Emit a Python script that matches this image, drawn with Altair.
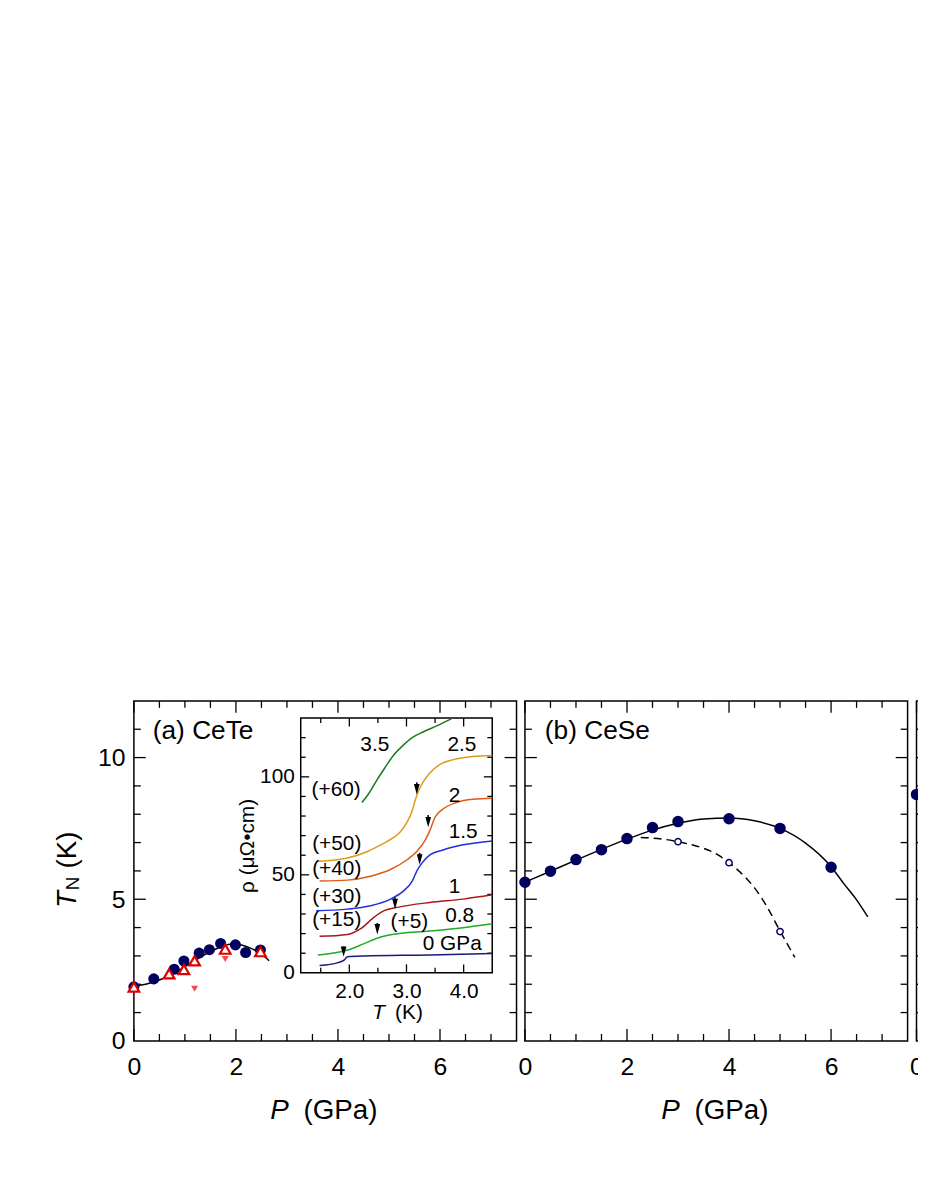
import altair as alt
import pandas as pd

FONT = "Liberation Sans"
NAVY = "#00005e"

# ---------------- (a) CeTe : T_N vs P ----------------
cete_dot_P = [0.0, 0.39, 0.79, 0.98, 1.28, 1.48, 1.70, 1.99, 2.19, 2.48]
cete_dot_T = [1.91, 2.19, 2.53, 2.82, 3.10, 3.22, 3.44, 3.39, 3.12, 3.21]
cete_tri_P = [0.0, 0.69, 0.98, 1.19, 1.79, 2.48]
cete_tri_T = [1.90, 2.37, 2.52, 2.83, 3.24, 3.15]
cete_down_P = [1.19, 1.79]
cete_down_T = [1.84, 2.89]
cete_fit_P = [0.0, 0.25, 0.5, 0.75, 1.0, 1.25, 1.5, 1.75, 1.9, 2.0, 2.25, 2.5, 2.65]
cete_fit_T = [1.93, 2.01, 2.15, 2.36, 2.62, 2.90, 3.15, 3.35, 3.41, 3.41, 3.30, 3.06, 2.83]

# ---------------- (b) CeSe ----------------
cese_dot_P = [0.0, 0.5, 1.0, 1.5, 2.0, 2.5, 3.0, 4.0, 5.0, 6.0]
cese_dot_T = [5.60, 5.99, 6.40, 6.75, 7.14, 7.53, 7.74, 7.84, 7.50, 6.13]
cese_open_P = [3.0, 4.0, 5.0]
cese_open_T = [7.03, 6.29, 3.86]
cese_fit_P = [0.0, 0.5, 1.0, 1.5, 2.0, 2.5, 3.0, 3.5, 4.0, 4.5, 5.0, 5.5, 6.0, 6.25, 6.5, 6.72]
cese_fit_T = [5.60, 5.99, 6.38, 6.76, 7.12, 7.44, 7.68, 7.83, 7.87, 7.77, 7.50, 6.98, 6.15, 5.55, 4.98, 4.38]
cese_dash_P = [2.27, 2.5, 2.75, 3.0, 3.25, 3.5, 3.75, 4.0, 4.25, 4.5, 4.75, 5.0, 5.15, 5.29]
cese_dash_T = [7.18, 7.16, 7.11, 7.03, 6.93, 6.80, 6.60, 6.29, 5.90, 5.40, 4.72, 3.88, 3.40, 2.95]

# ---------------- (c) (cut off by the page edge) ----------------
c_dot_P = [0.0]
c_dot_T = [8.7]

# ---------------- inset: rho(T) of CeTe ----------------
curve_names = ["3.5", "2.5", "2", "1.5", "1", "0.8", "0"]
curve_colors = ["#197a19", "#de9a1e", "#e05a14", "#1f2fe0", "#a81818", "#22aa22", "#1a1a7a"]
r35_T = [2.22, 2.35, 2.49, 2.62, 2.78, 2.95, 3.10, 3.30, 3.53, 3.79]
r35_R = [86.9, 91.9, 98.7, 104.5, 111.3, 116.3, 120.0, 123.0, 126.0, 129.7]
r25_T = [1.45, 1.97, 2.32, 2.60, 2.75, 2.89, 3.01, 3.10, 3.15, 3.21, 3.30, 3.41, 3.58, 3.82, 4.16, 4.50]
r25_R = [56.9, 58.6, 61.9, 66.1, 68.6, 71.8, 76.9, 82.7, 87.8, 92.8, 97.8, 102.0, 106.2, 108.8, 110.4, 110.9]
r2_T = [1.48, 1.97, 2.37, 2.72, 3.01, 3.18, 3.33, 3.41, 3.50, 3.64, 3.87, 4.16, 4.50]
r2_R = [46.8, 47.3, 49.3, 52.7, 57.7, 61.9, 67.8, 72.7, 79.4, 83.6, 86.9, 88.6, 89.1]
r15_T = [1.42, 1.97, 2.37, 2.72, 2.95, 3.10, 3.18, 3.27, 3.41, 3.64, 3.99, 4.50]
r15_R = [31.7, 32.5, 34.2, 37.6, 41.8, 46.8, 51.9, 56.0, 60.2, 62.7, 65.3, 67.3]
r1_T = [1.48, 1.97, 2.20, 2.43, 2.61, 2.84, 3.41, 3.99, 4.50]
r1_R = [18.6, 19.6, 22.5, 28.3, 31.7, 33.4, 35.9, 37.6, 39.8]
r08_T = [1.45, 1.97, 2.26, 2.55, 2.72, 3.41, 3.99, 4.50]
r08_R = [9.1, 11.6, 14.9, 18.3, 19.4, 21.3, 23.0, 25.0]
r0_T = [1.48, 1.80, 1.91, 1.97, 2.26, 3.41, 4.50]
r0_R = [3.7, 5.2, 6.5, 8.2, 8.6, 9.1, 9.9]

arrow_T = [1.90, 2.49, 2.80, 3.23, 3.38, 3.18]
arrow_tip = [8.2, 19.6, 32.5, 55.2, 74.3, 91.1]
arrow_top = [13.4, 25.4, 38.4, 61.2, 80.5, 97.2]

ins_lab_text = ["3.5", "2.5", "(+60)", "2", "1.5", "(+50)", "(+40)", "1",
                "(+30)", "(+15)", "(+5)", "0.8", "0 GPa"]
ins_lab_T = [2.446, 3.97, 1.77, 3.84, 3.99, 1.78, 1.78, 3.84, 1.78, 1.78, 3.05, 3.93, 3.80]
ins_lab_R = [116, 116, 93.3, 90.3, 71.8, 65.8, 52.7, 43.9, 38.8, 26.7, 25.8, 29.2, 14.6]

# ---------------- axes domains & ticks ----------------
P_DOM = [0, 7.5]
TN_DOM = [0, 12]
T_DOM = [1.15, 4.5]
RHO_DOM = [0, 130]
P_MAJOR = [0, 2, 4, 6]
P_MINOR = [0.5, 1, 1.5, 2.5, 3, 3.5, 4.5, 5, 5.5, 6.5, 7]
TN_MAJOR = [5, 10]
TN_MINOR = [1, 2, 3, 4, 6, 7, 8, 9, 11]
T_MAJOR = [2, 3, 4]
T_MINOR = [1.5, 2.5, 3.5]
RHO_MAJOR = [50, 100]
RHO_MINOR = [10, 20, 30, 40, 60, 70, 80, 90, 110, 120]

# ---------------- layout (pixels inside the plot area) ----------------
H = 343
TOTAL_W = 791
A_RANGE = [0, 386]
B_RANGE = [394.5, 780.5]
C_RANGE = [789.5, 1175.5]
INS_X_RANGE = [168.3, 361.5]
INS_Y_RANGE = [274.3, 17.3]
MAIN_FS = 25
TITLE_FS = 28
INSET_FS = 21


def sc(dom, rng):
    return alt.Scale(domain=dom, range=rng, nice=False, zero=False)


def label_axis(orient, values, fmt, size, pad, offset=0, title=None, **kw):
    args = dict(orient=orient, values=values, format=fmt, ticks=False, tickSize=0,
                domain=False, grid=False, labelFontSize=size, labelFont=FONT,
                labelColor="black", labelPadding=pad, labelFlush=False,
                labelOverlap=False, offset=offset)
    if title is None:
        args["title"] = None
    else:
        args.update(title=title, titleFont=FONT, titleFontSize=size,
                    titleFontWeight="normal", titleColor="black")
    args.update(kw)
    return alt.Axis(**args)


class Panel:
    def __init__(self, sx, sy, ax, ay):
        self.sx, self.sy, self.ax, self.ay = sx, sy, ax, ay

    def X(self, f):
        return alt.X(f, type="quantitative", scale=self.sx, axis=self.ax)

    def Y(self, f):
        return alt.Y(f, type="quantitative", scale=self.sy, axis=self.ay)

    def frame(self, xdom, ydom, fill="white", opacity=0.0, sw=1.5):
        df = pd.DataFrame({"x0": [xdom[0]], "x1": [xdom[1]], "y0": [ydom[0]], "y1": [ydom[1]]})
        return alt.Chart(df).mark_rect(fill=fill, fillOpacity=opacity, stroke="black",
                                       strokeWidth=sw).encode(
            x=self.X("x0"), x2=alt.X2("x1"), y=self.Y("y0"), y2=alt.Y2("y1"))

    def ticks(self, xdom, ydom, xmaj, xmin, ymaj, ymin, lmaj, lmin, sw=1.3):
        out = []
        for vals, L in ((xmaj, lmaj), (xmin, lmin)):
            for yv, off in ((ydom[0], -L), (ydom[1], L)):
                df = pd.DataFrame({"tx": vals, "ty": [yv] * len(vals)})
                out.append(alt.Chart(df).mark_rule(color="black", strokeWidth=sw, y2Offset=off)
                           .encode(x=self.X("tx"), y=self.Y("ty"), y2=alt.Y2("ty")))
        for vals, L in ((ymaj, lmaj), (ymin, lmin)):
            for xv, off in ((xdom[0], L), (xdom[1], -L)):
                df = pd.DataFrame({"ty": vals, "tx": [xv] * len(vals)})
                out.append(alt.Chart(df).mark_rule(color="black", strokeWidth=sw, x2Offset=off)
                           .encode(y=self.Y("ty"), x=self.X("tx"), x2=alt.X2("tx")))
        return out

    def line(self, xs, ys, **mk):
        df = pd.DataFrame({"x": xs, "y": ys})
        return alt.Chart(df).mark_line(interpolate="monotone", **mk).encode(
            x=self.X("x"), y=self.Y("y"), order=alt.Order("x:Q"))

    def points(self, xs, ys, **mk):
        df = pd.DataFrame({"x": xs, "y": ys})
        return alt.Chart(df).mark_point(opacity=1, **mk).encode(x=self.X("x"), y=self.Y("y"))

    def text(self, txt, x, y, **mk):
        df = pd.DataFrame({"x": [x], "y": [y], "t": [txt]})
        return alt.Chart(df).mark_text(font=FONT, color="black", **mk).encode(
            x=self.X("x"), y=self.Y("y"), text="t:N")


# ---------------- panel (a) ----------------
pa = Panel(sc(P_DOM, A_RANGE), sc(TN_DOM, [H, 0]),
           label_axis("bottom", P_MAJOR, "d", MAIN_FS, 14),
           label_axis("left", [0, 5, 10], "d", MAIN_FS, 9))
groupA = alt.layer(
    pa.frame(P_DOM, TN_DOM),
    *pa.ticks(P_DOM, TN_DOM, P_MAJOR, P_MINOR, TN_MAJOR, TN_MINOR, 12, 7),
    pa.line(cete_fit_P, cete_fit_T, color="black", strokeWidth=1.5),
    pa.points(cete_dot_P, cete_dot_T, shape="circle", filled=True, color=NAVY, size=125),
    pa.points(cete_tri_P, cete_tri_T, shape="triangle-up", filled=True, fill="white",
              stroke="#e00000", strokeWidth=2.2, size=115),
    pa.points(cete_down_P, cete_down_T, shape="triangle-down", filled=True, color="#f04a4a", size=50),
    pa.text("(a) CeTe", 0.37, 10.64, fontSize=26.5, align="left", baseline="alphabetic"),
)

# ---------------- inset ----------------
pi = Panel(sc(T_DOM, INS_X_RANGE), sc(RHO_DOM, INS_Y_RANGE),
           label_axis("bottom", T_MAJOR, ".1f", INSET_FS, 8, offset=-(H - INS_Y_RANGE[0])),
           label_axis("left", [0, 50, 100], "d", INSET_FS, 6.5, offset=-INS_X_RANGE[0],
                      title="ρ  (μΩ•cm)", titlePadding=2))

curve_rows = []
for name, ts, rs in zip(curve_names,
                        [r35_T, r25_T, r2_T, r15_T, r1_T, r08_T, r0_T],
                        [r35_R, r25_R, r2_R, r15_R, r1_R, r08_R, r0_R]):
    for t, r in zip(ts, rs):
        curve_rows.append({"T": t, "rho": r, "p": name})
curves_df = pd.DataFrame(curve_rows)
inset_curves = alt.Chart(curves_df).mark_line(interpolate="monotone", strokeWidth=1.5).encode(
    x=pi.X("T"), y=pi.Y("rho"),
    color=alt.Color("p:N", scale=alt.Scale(domain=curve_names, range=curve_colors), legend=None),
    detail="p:N", order=alt.Order("T:Q"))

arrow_df = pd.DataFrame({"T": arrow_T, "tip": arrow_tip, "top": arrow_top,
                         "head": [v + 2.6 for v in arrow_tip]})
arrow_lines = alt.Chart(arrow_df).mark_rule(color="black", strokeWidth=1.6).encode(
    x=pi.X("T"), y=pi.Y("top"), y2=alt.Y2("head"))
arrow_heads = alt.Chart(arrow_df).mark_point(shape="M-0.55,-1L0.55,-1L0,1Z", filled=True,
                                             color="black", size=110, opacity=1).encode(
    x=pi.X("T"), y=pi.Y("head"))
ins_lab_df = pd.DataFrame({"T": ins_lab_T, "rho": ins_lab_R, "t": ins_lab_text})
ins_labels = alt.Chart(ins_lab_df).mark_text(font=FONT, fontSize=INSET_FS, color="black",
                                             align="center", baseline="middle").encode(
    x=pi.X("T"), y=pi.Y("rho"), text="t:N")

groupI = alt.layer(
    pi.frame(T_DOM, RHO_DOM, fill="white", opacity=1.0),
    *pi.ticks(T_DOM, RHO_DOM, T_MAJOR, T_MINOR, RHO_MAJOR, RHO_MINOR, 8.5, 5),
    inset_curves, arrow_lines, arrow_heads, ins_labels,
)

# ---------------- panel (b) ----------------
pb = Panel(sc(P_DOM, B_RANGE), sc(TN_DOM, [H, 0]),
           label_axis("bottom", P_MAJOR, "d", MAIN_FS, 14), None)
groupB = alt.layer(
    pb.frame(P_DOM, TN_DOM),
    *pb.ticks(P_DOM, TN_DOM, P_MAJOR, P_MINOR, TN_MAJOR, TN_MINOR, 12, 7),
    pb.line(cese_fit_P, cese_fit_T, color="black", strokeWidth=1.5),
    pb.line(cese_dash_P, cese_dash_T, color="black", strokeWidth=1.5, strokeDash=[8, 5]),
    pb.points(cese_dot_P, cese_dot_T, shape="circle", filled=True, color=NAVY, size=135),
    pb.points(cese_open_P, cese_open_T, shape="circle", filled=True, fill="white",
              stroke=NAVY, strokeWidth=1.5, size=40),
    pb.text("(b) CeSe", 0.39, 10.65, fontSize=26.5, align="left", baseline="alphabetic"),
)

# ---------------- panel (c), cut by the page edge ----------------
pc = Panel(sc(P_DOM, C_RANGE), sc(TN_DOM, [H, 0]),
           label_axis("bottom", [0], "d", MAIN_FS, 14), None)
groupC = alt.layer(
    pc.frame(P_DOM, TN_DOM),
    *pc.ticks(P_DOM, TN_DOM, P_MAJOR, P_MINOR, TN_MAJOR, TN_MINOR, 12, 7),
    pc.points(c_dot_P, c_dot_T, shape="circle", filled=True, color=NAVY, size=135),
)

# ---------------- axis titles (mixed italic / upright) ----------------
one = pd.DataFrame({"k": [0]})


def title_text(txt, x, y, size, italic=False, angle=0, baseline="middle"):
    mk = dict(text=txt, font=FONT, fontSize=size, color="black", align="left", baseline=baseline)
    if italic:
        mk["fontStyle"] = "italic"
    if angle:
        mk["angle"] = angle
    return alt.Chart(one).mark_text(**mk).encode(x=alt.value(x), y=alt.value(y))


titles = [
    title_text("T", -58.3, 209, TITLE_FS, italic=True, angle=270, baseline="alphabetic"),
    title_text("N", -55, 191, 19, angle=270, baseline="alphabetic"),
    title_text("(K)", -58.3, 169, TITLE_FS, angle=270, baseline="alphabetic"),
    title_text("P", 137.5, 414, TITLE_FS, italic=True),
    title_text("(GPa)", 171, 414, TITLE_FS),
    title_text("P", 137.5 + B_RANGE[0], 414, TITLE_FS, italic=True),
    title_text("(GPa)", 171 + B_RANGE[0], 414, TITLE_FS),
    title_text("T", 240.5, 315, INSET_FS, italic=True),
    title_text("(K)", 263.5, 315, INSET_FS),
]

chart = alt.layer(groupA, groupI, groupB, groupC, *titles).resolve_scale(
    x="independent", y="independent"
).properties(
    width=TOTAL_W, height=H,
    autosize=alt.AutoSizeParams(type="none"),
    padding={"left": 127, "top": 694, "right": 0, "bottom": 100},
).configure(font=FONT).configure_view(stroke="transparent")

chart.save("out.html", embed_options={"renderer": "svg", "actions": False})
